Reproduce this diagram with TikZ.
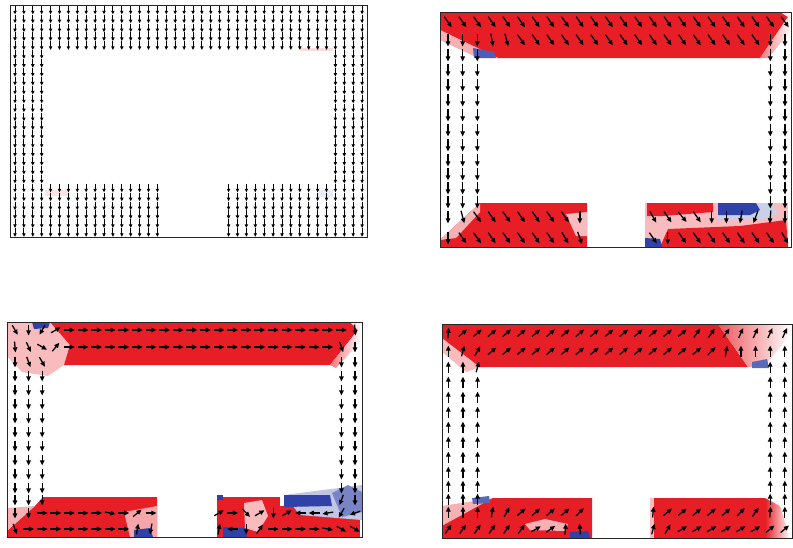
\documentclass[tikz,border=0pt]{standalone}
\usepackage{tikz}
\usetikzlibrary{arrows.meta}

\definecolor{fieldred}{RGB}{232,30,38}
\definecolor{fieldblue}{RGB}{48,66,168}

\tikzset{
  vec/.style={line width=1.1pt, -{Triangle[length=4.4pt,width=3.8pt]}},
  vecthin/.style={line width=0.75pt, -{Triangle[length=3pt,width=2.8pt]}},
  frame/.style={draw=black!85, line width=0.6pt},
}

% one row of arrows: x0, dx, y, half length, first column, list of angles
\newcommand\vrow[6]{%
  \foreach \a [count=\k from #5] in {#6}
    \draw[vec] ({#1+#2*\k},#3) ++(\a:-#4) -- ++(\a:2*#4);}
% run of arrows with one angle: x0, dx, y, half length, from, to, angle
\newcommand\vrun[7]{%
  \foreach \k in {#5,...,#6}
    \draw[vec] ({#1+#2*\k},#3) ++(#7:-#4) -- ++(#7:2*#4);}

\begin{document}
\begin{tikzpicture}[x=0.03cm, y=-0.03cm]
  \useasboundingbox (0,0) rectangle (793,547);

  % ---------- top left
  \fill[fieldred!12] (45,190) rectangle (70,196);
  \fill[fieldblue!10] (318,190) rectangle (333,197);
  \fill[fieldred!15] (300,48) rectangle (333,51);
  \foreach \k in {0,...,39} \foreach \j in {0,...,25} {
    \pgfmathsetmacro\px{15+8.9*\k}
    \pgfmathsetmacro\py{10+8.9*\j}
    \pgfmathtruncatemacro\inhole{(\px>45 && \px<333 && \py>48 && \py<186) || (\px>160 && \px<220 && \py>150)}
    \ifnum\inhole=0 \draw[vecthin] (\px,\py-4.3) -- (\px,\py+4.3); \fi
  }
  \draw[frame] (10,5) rectangle (367,237);

  % ---------- top right
  \fill[fieldred] (440,12) -- (788,12) -- (788,17) -- (760,58) -- (498,58) -- (440,30) -- cycle;
  \fill[fieldred!35] (440,30) -- (498,58) -- (478,58) -- (440,40) -- cycle;
  \shade[left color=fieldred!60, right color=white] (780,12) -- (792,12) -- (792,30) -- (768,58) -- (760,58) -- (788,17) -- cycle;
  \fill[fieldblue!85] (473,48) -- (494,52) -- (496,58) -- (474,58) -- cycle;
  \fill[fieldred] (480,203) -- (587,203) -- (587,247) -- (440,247) -- (440,240) -- (468,214) -- cycle;
  \fill[fieldred!35] (440,240) -- (468,214) -- (480,203) -- (480,212) -- (456,238) -- cycle;
  \fill[fieldred!30] (566,214) -- (587,212) -- (587,236) -- (576,236) -- cycle;
  \fill[fieldred!30] (645,203) rectangle (788,247);
  \fill[fieldred] (647,203) -- (713,203) -- (713,212) -- (662,216) -- (647,216) -- cycle;
  \fill[fieldblue!25] (718,203) -- (772,203) -- (778,214) -- (760,220) -- (718,219) -- cycle;
  \fill[fieldblue] (718,203) -- (756,203) -- (760,210) -- (750,215) -- (718,215) -- cycle;
  \fill[fieldred] (660,247) -- (668,229) -- (740,226) -- (786,220) -- (788,247) -- cycle;
  \fill[fieldblue] (645,238) -- (660,239) -- (662,247) -- (645,247) -- cycle;
  \draw[frame] (440,12) rectangle (791.5,247);
  \vrun{448}{14.65}{22}{6.5}{0}{23}{55}
  \vrow{448}{14.65}{40}{6.5}{0}{90,90,90,80,75}
  \vrun{448}{14.65}{40}{6.5}{5}{21}{55}
  \vrow{448}{14.65}{40}{6.5}{22}{90,90}
  \foreach \y in {55,70,85,100,115,130,145,160,174,188,202} {
    \vrun{448}{14.65}{\y}{6.5}{0}{2}{90}
    \vrun{448}{14.65}{\y}{6.5}{22}{23}{90}
  }
  \vrow{448}{14.65}{217}{6.5}{0}{90,75,55,55,55,55,55,55,55,90}
  \vrow{448}{14.65}{238}{6.5}{0}{90,55,55,55,55,55,55,55,60,70}
  \vrow{448}{14.65}{217}{6.5}{14}{60,55,50,55,90,90,100,110,95,90}
  \vrow{448}{14.65}{238}{6.5}{14}{55,90,55,55,55,55,55,55,55,60}

  % ---------- bottom left
  \fill[fieldred!30] (7,322) -- (50,322) -- (70,345) -- (64,365) -- (48,376) -- (22,372) -- (7,356) -- cycle;
  \fill[fieldred] (50,322) -- (358,322) -- (358,330) -- (330,365) -- (64,365) -- (70,345) -- cycle;
  \shade[left color=fieldred!60, right color=white] (350,322) -- (362,322) -- (362,340) -- (336,368) -- (330,365) -- (358,330) -- cycle;
  \fill[fieldblue] (32,322) -- (50,322) -- (48,328) -- (34,329) -- cycle;
  \fill[fieldred] (43,497) -- (157,497) -- (157,537) -- (8,537) -- (8,530) -- (35,506) -- cycle;
  \fill[fieldred!35] (8,508) -- (35,506) -- (8,530) -- cycle;
  \fill[fieldred!40] (124,512) -- (157,506) -- (157,537) -- (130,537) -- cycle;
  \fill[fieldblue] (134,530) -- (150,528) -- (153,537) -- (134,537) -- cycle;
  \fill[fieldred] (217,497) rectangle (360,537);
  \fill[fieldred!30] (244,503) -- (262,500) -- (268,516) -- (258,532) -- (245,528) -- cycle;
  \fill[white] (280,495) rectangle (284,506);
  \fill[fieldblue] (217,495) rectangle (223,500);
  \fill[fieldblue!30] (284,495) -- (362,485) -- (362,520) -- (300,515) -- cycle;
  \fill[fieldblue] (284,495) -- (330,495) -- (332,506) -- (284,507) -- cycle;
  \fill[fieldblue!65] (332,493) -- (348,485) -- (362,492) -- (362,512) -- (342,517) -- cycle;
  \fill[fieldblue] (223,527) -- (245,528) -- (247,537) -- (223,537) -- cycle;
  \draw[frame] (7,322) rectangle (362,537);
  \vrow{15}{13.6}{330}{5.5}{0}{60,90,120,-30}
  \vrun{15}{13.6}{330}{5.5}{4}{24}{0}
  \vrow{15}{13.6}{330}{5.5}{25}{85}
  \vrow{15}{13.6}{347}{5.5}{0}{85,65,30,-50}
  \vrun{15}{13.6}{347}{5.5}{4}{23}{0}
  \vrow{15}{13.6}{347}{5.5}{24}{70,90}
  \vrow{15}{13.6}{362}{5.5}{0}{90,70,60}
  \foreach \y in {376,390,404,418,432,446,460,474,488,500}
    \vrun{15}{13.6}{\y}{5.5}{0}{2}{90};
  \foreach \y in {362,376,390,404,418,432,446,460,474,488}
    \vrun{15}{13.6}{\y}{5.5}{24}{25}{90};
  \vrow{15}{13.6}{500}{5.5}{24}{110,90}
  \vrow{15}{13.6}{513}{5.5}{0}{90,90,0,0,0,0,0,10,0,-40,0}
  \vrow{15}{13.6}{529}{5.5}{0}{70,0,0,0,0,0,0,0,0,-80,100}
  \vrow{15}{13.6}{513}{5.5}{15}{-30,0,45,-30,90,-30,180,180,170,120,160}
  \vrow{15}{13.6}{529}{5.5}{15}{-80,180,90,-55,0,0,0,0,10,30,30}

  % ---------- bottom right
  \fill[fieldred!30] (442,336) -- (480,367) -- (466,372) -- (442,352) -- cycle;
  \fill[fieldred] (442,324) -- (718,324) -- (748,367) -- (480,367) -- (442,338) -- cycle;
  \shade[left color=fieldred!75, right color=white] (718,324) -- (792,324) -- (792,332) -- (764,367) -- (748,367) -- cycle;
  \fill[fieldblue!80] (752,362) -- (767,359) -- (769,368) -- (752,368) -- cycle;
  \fill[fieldred!35] (442,506) -- (493,498) -- (493,538) -- (442,538) -- cycle;
  \fill[fieldred] (493,498) -- (592,498) -- (592,538) -- (442,538) -- (442,526) -- cycle;
  \fill[fieldred!35] (525,524) -- (545,519) -- (568,524) -- (565,531) -- (530,530) -- cycle;
  \fill[fieldblue!80] (472,498) -- (489,496) -- (490,503) -- (473,504) -- cycle;
  \fill[fieldblue] (570,532) -- (588,531) -- (590,538) -- (570,538) -- cycle;
  \fill[fieldred!30] (650,498) -- (654,498) -- (656,538) -- (650,538) -- cycle;
  \fill[fieldred] (654,498) rectangle (765,538);
  \shade[left color=fieldred, right color=white] (765,498) -- (780,506) -- (790,538) -- (765,538) -- cycle;
  \draw[frame] (442,324) rectangle (792,538);
  \vrow{448.3}{14.63}{333}{5.5}{0}{-85}
  \vrun{448.3}{14.63}{333}{5.5}{1}{16}{-40}
  \vrun{448.3}{14.63}{333}{5.5}{17}{19}{-55}
  \vrun{448.3}{14.63}{333}{5.5}{20}{23}{-65}
  \vrow{448.3}{14.63}{351}{5.5}{0}{-90,-75,-60}
  \vrun{448.3}{14.63}{351}{5.5}{3}{17}{-40}
  \vrow{448.3}{14.63}{351}{5.5}{18}{-45,-80,-90,-90,-90,-90}
  \vrow{448.3}{14.63}{367}{5.5}{0}{-90,-90,-75}
  \foreach \y in {382,397,412,427,442,457,472,486,499}
    \vrun{448.3}{14.63}{\y}{5.5}{0}{2}{-90};
  \foreach \y in {367,382,397,412,427,442,457,472,486,499}
    \vrun{448.3}{14.63}{\y}{5.5}{22}{23}{-90};
  \vrow{448.3}{14.63}{512}{5.5}{0}{-90,-90,-90,-80,-60,-40,-40,-40,-40,-45}
  \vrow{448.3}{14.63}{529}{5.5}{0}{-55,-55,-55,-55,-55,-55,-30,-35,-85,-95}
  \vrow{448.3}{14.63}{512}{5.5}{14}{-85,-40,-40,-40,-40,-40,-45,-55,-85,-90}
  \vrow{448.3}{14.63}{529}{5.5}{14}{-75,-60,-30,-30,-30,-30,-30,-30,-40,-40}
\end{tikzpicture}
\end{document}
